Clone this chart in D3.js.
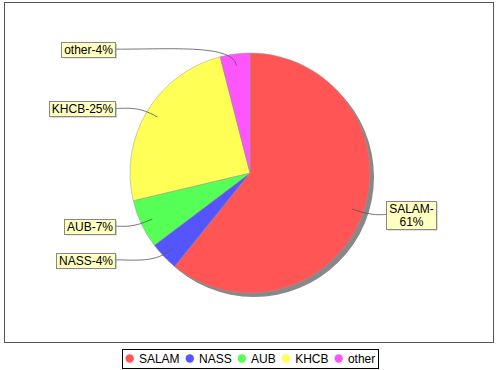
<!DOCTYPE html>
<html><head><meta charset="utf-8">
<script src="https://cdn.jsdelivr.net/npm/d3@7"></script>
<style>body{margin:0;background:#fff}svg{display:block}</style>
</head><body>
<svg id="chart" width="500" height="370"></svg>
<script>
const categories = ["SALAM", "NASS", "AUB", "KHCB", "other"];
const values = [60.8, 3.9, 6.6, 24.7, 4.0];
const colors = ["#FF5555", "#5555FF", "#55FF55", "#FFFF55", "#FF55FF"];

const W = 500, H = 370;
const svg = d3.select("#chart");
const FONT = "'Liberation Sans', Arial, sans-serif";

// plot area
const plot = {x0: 4.5, y0: 2.5, x1: 493.5, y1: 342.5};
svg.append("rect").attr("x", 0).attr("y", 0).attr("width", W).attr("height", H).attr("fill", "#fff");
svg.append("rect").attr("x", plot.x0).attr("y", plot.y0)
  .attr("width", plot.x1 - plot.x0).attr("height", plot.y1 - plot.y0)
  .attr("fill", "#fff").attr("stroke", "#555").attr("stroke-width", 1);

const cx = 250, cy = 173, R = 120;
const total = d3.sum(values);
const pie = d3.pie().sort(null).value(d => d.v);
const data = pie(categories.map((c, i) => ({c, v: values[i], col: colors[i]})));
const arc = d3.arc().innerRadius(0).outerRadius(R);

const g = svg.append("g").attr("transform", `translate(${cx},${cy})`);
// shadow
g.append("circle").attr("cx", 4).attr("cy", 4).attr("r", R).attr("fill", "#888");
g.selectAll("path.slice").data(data).join("path").attr("class", "slice")
  .attr("d", arc).attr("fill", d => d.data.col)
  .attr("stroke", "#999").attr("stroke-width", 0.5);

// labels
const measure = svg.append("text").style("font-family", FONT).style("font-size", "12px");
function tw(s) { measure.text(s); return measure.node().getComputedTextLength(); }
const maxLabelW = 0.14 * (plot.x1 - plot.x0);
const lineH = 13.5, padX = 2.5, padY = 0.5;
const leftEdge = cx - R - 15, rightEdge = cx + R + 16;

const labelG = svg.append("g");
data.forEach(d => {
  const mid = (d.startAngle + d.endAngle) / 2;
  const pct = Math.round(d.data.v / total * 100);
  const full = d.data.c + "-" + pct + "%";
  let lines = [full];
  if (tw(full) > maxLabelW) lines = [d.data.c + "-", pct + "%"];
  const bw = d3.max(lines, tw) + 2 * padX;
  const bh = lines.length * lineH + 2 * padY;
  const ly = cy - Math.cos(mid) * R * 1.04;
  const right = Math.sin(mid) > 0;
  const bx = right ? rightEdge : leftEdge - bw;
  const by = ly - bh / 2;
  // link
  const ex = right ? bx : bx + bw;
  const p3 = [cx + Math.sin(mid) * R * 0.9, cy - Math.cos(mid) * R * 0.9];
  const p2 = [cx + Math.sin(mid) * R * 1.08, cy - Math.cos(mid) * R * 1.08];
  const p1 = [ex + (p2[0] - ex) * 0.5, ly];
  labelG.append("path")
    .attr("d", `M${ex},${ly}C${p1[0]},${p1[1]} ${p2[0]},${p2[1]} ${p3[0]},${p3[1]}`)
    .attr("fill", "none").attr("stroke", "#555").attr("stroke-width", 0.8);
  // shadow + box
  labelG.append("rect").attr("x", bx + 2).attr("y", by + 2).attr("width", bw).attr("height", bh)
    .attr("fill", "rgba(151,151,151,0.5)");
  labelG.append("rect").attr("x", Math.round(bx) + 0.5).attr("y", Math.round(by) + 0.5)
    .attr("width", Math.round(bw)).attr("height", Math.round(bh))
    .attr("fill", "#FFFFC0").attr("stroke", "#888").attr("stroke-width", 1);
  lines.forEach((s, i) => {
    labelG.append("text").attr("x", Math.round(bx) + 0.5 + Math.round(bw) / 2)
      .attr("y", Math.round(by) + padY + lineH * (i + 0.5) + 4.5)
      .attr("text-anchor", "middle").style("font-family", FONT).style("font-size", "12px")
      .attr("fill", "#000").text(s);
  });
});

// legend
const legY = 358.5;
const items = categories.map((c, i) => ({c, col: colors[i], w: tw(c)}));
const circR = 4.2, gapCT = 5, itemGap = 6, lpad = 3;
const totalW = d3.sum(items, d => 2 * circR + gapCT + d.w) + itemGap * (items.length - 1) + 2 * lpad;
const lx0 = Math.round(cx - totalW / 2) + 0.5;
svg.append("rect").attr("x", lx0).attr("y", 349.5).attr("width", Math.round(totalW)).attr("height", 19)
  .attr("fill", "#fff").attr("stroke", "#000").attr("stroke-width", 1);
let x = lx0 + lpad;
items.forEach(d => {
  svg.append("circle").attr("cx", x + circR).attr("cy", legY).attr("r", circR).attr("fill", d.col);
  svg.append("text").attr("x", x + 2 * circR + gapCT).attr("y", legY + 4.3)
    .style("font-family", FONT).style("font-size", "12px").attr("fill", "#000").text(d.c);
  x += 2 * circR + gapCT + d.w + itemGap;
});
measure.remove();
</script>
</body></html>
